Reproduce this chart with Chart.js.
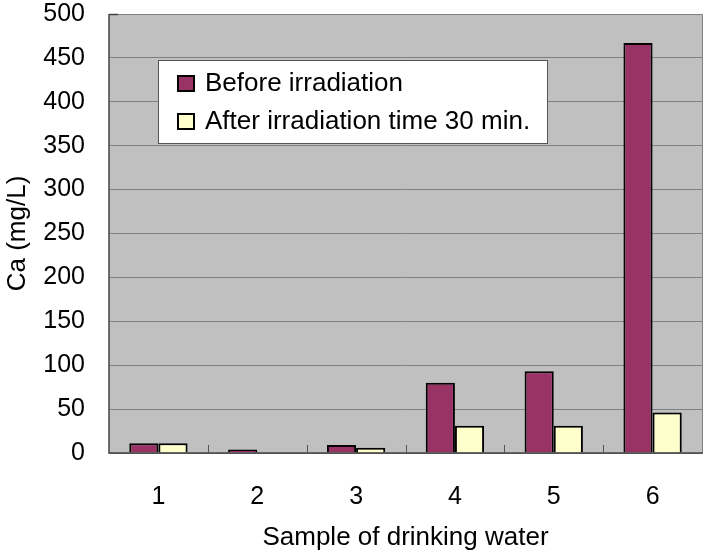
<!DOCTYPE html>
<html><head><meta charset="utf-8">
<script src="https://cdn.jsdelivr.net/npm/chart.js@4/dist/chart.umd.min.js"></script>
<style>html,body{margin:0;padding:0;background:#fff}#w{width:720px;height:552px}</style>
</head><body><div id="w"><canvas id="c" width="720" height="552"></canvas></div>
<script>
const categories = ['1','2','3','4','5','6'];
const beforeValues = [11, 4, 9, 80, 93, 467];
const afterValues = [11, 0, 6, 31, 31, 46];
const seriesLabels = ['Before irradiation', 'After irradiation time 30 min.'];
const yTicks = [0,50,100,150,200,250,300,350,400,450,500];
const FONT = '"Liberation Sans", Arial, sans-serif';

const bgPlugin = {
  id: 'bg',
  beforeDraw(chart) {
    const {ctx, chartArea: a} = chart;
    ctx.save();
    ctx.fillStyle = '#C0C0C0';
    ctx.fillRect(a.left, a.top, a.right - a.left, a.bottom - a.top);
    ctx.restore();
  },
  afterDatasetsDraw(chart) {
    const {ctx, chartArea: a, scales} = chart;
    const x = scales.x;
    ctx.save();
    ctx.strokeStyle = '#555';
    ctx.lineWidth = 1;
    for (let i = 1; i < categories.length; i++) {
      const px = Math.round((x.getPixelForValue(i - 1) + x.getPixelForValue(i)) / 2) + 0.5;
      ctx.beginPath(); ctx.moveTo(px, a.bottom); ctx.lineTo(px, a.bottom - 8); ctx.stroke();
    }
    ctx.strokeStyle = '#808080';
    ctx.beginPath(); ctx.moveTo(a.left, a.top + 0.5); ctx.lineTo(a.right + 0.5, a.top + 0.5); ctx.lineTo(a.right + 0.5, a.bottom); ctx.stroke();
    ctx.strokeStyle = '#444';
    ctx.lineWidth = 1.5;
    ctx.beginPath(); ctx.moveTo(a.left, a.top); ctx.lineTo(a.left, a.bottom); ctx.lineTo(a.right + 1, a.bottom); ctx.stroke();
    ctx.beginPath(); ctx.moveTo(a.left, a.top + 0.5); ctx.lineTo(a.left + 9, a.top + 0.5); ctx.stroke();
    // legend
    const lx = a.left + 49, ly = a.top + 46, lw = 389, lh = 83;
    ctx.fillStyle = '#fff';
    ctx.fillRect(lx, ly, lw, lh);
    ctx.strokeStyle = '#555';
    ctx.lineWidth = 1;
    ctx.strokeRect(lx + 0.5, ly + 0.5, lw, lh);
    ctx.font = '26px ' + FONT;
    ctx.textBaseline = 'middle';
    chart.data.datasets.forEach((ds, i) => {
      const cy = ly + 23 + i * 38;
      ctx.fillStyle = ds.backgroundColor;
      ctx.fillRect(lx + 20, cy - 7, 16, 15);
      ctx.strokeStyle = '#000';
      ctx.lineWidth = 2;
      ctx.strokeRect(lx + 20, cy - 7, 16, 15);
      ctx.fillStyle = '#000';
      ctx.fillText(ds.label, lx + 47, cy + 1);
    });
    ctx.restore();
  }
};

new Chart(document.getElementById('c'), {
  type: 'bar',
  data: {
    labels: categories,
    datasets: [
      {label: seriesLabels[0], data: beforeValues, backgroundColor: '#993366', borderColor: '#000', borderWidth: 2, borderSkipped: 'bottom'},
      {label: seriesLabels[1], data: afterValues, backgroundColor: '#FFFFCC', borderColor: '#000', borderWidth: 2, borderSkipped: 'bottom'}
    ]
  },
  options: {
    responsive: false,
    animation: false,
    devicePixelRatio: 1,
    layout: {padding: {top: 14, right: 18, bottom: 0, left: 2}},
    plugins: {legend: {display: false}, tooltip: {enabled: false}},
    datasets: {bar: {categoryPercentage: 0.59, barPercentage: 1.0}},
    scales: {
      x: {
        grid: {display: false},
        border: {display: false},
        ticks: {color: '#000', font: {family: FONT, size: 25}, padding: 21},
        title: {display: true, text: 'Sample of drinking water', color: '#000', font: {family: FONT, size: 26, lineHeight: 1.1}, padding: {top: 14, bottom: 0}},
        afterFit(scale) { scale.height = 99; }
      },
      y: {
        min: 0, max: 500,
        afterBuildTicks(scale) { scale.ticks = yTicks.map(v => ({value: v})); },
        grid: {color: '#808080', lineWidth: 1, drawTicks: false},
        border: {display: false},
        ticks: {color: '#000', font: {family: FONT, size: 25}, padding: 24},
        title: {display: true, text: 'Ca (mg/L)', color: '#000', font: {family: FONT, size: 26}, padding: {top: 0, bottom: 0}},
        afterFit(scale) { scale.width = 107; scale.paddingTop = 0; scale.paddingBottom = 0; }
      }
    }
  },
  plugins: [bgPlugin]
});
</script></body></html>
